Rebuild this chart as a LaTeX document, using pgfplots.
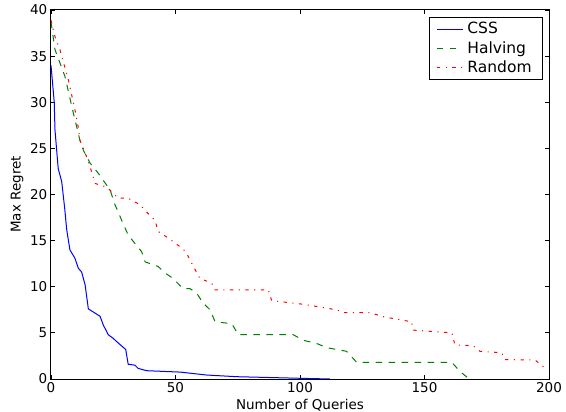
\documentclass[border=0pt]{standalone}
\usepackage{fontspec}
\setmainfont{DejaVu Sans}
\usepackage{pgfplots}
\pgfplotsset{compat=1.18}

\begin{document}
\fontsize{13.5bp}{16bp}\selectfont
\begin{tikzpicture}
\useasboundingbox (-51bp,-33bp) rectangle (515bp,379bp);
\begin{axis}[
  at={(0,0)}, anchor=south west,
  scale only axis, width=498bp, height=369bp,
  xmin=0, xmax=200, ymin=0, ymax=40,
  xtick={0,50,...,200}, ytick={0,5,...,40},
  tick align=inside, major tick length=4bp,
  tick style={black, line width=0.8bp},
  axis line style={line width=1bp},
  /pgf/number format/assume math mode=true,
  ticklabel style={font=\fontsize{13.5bp}{16bp}\selectfont},
  xticklabel style={yshift=1bp},
  yticklabel style={xshift=1bp},
  xlabel={Number of Queries}, ylabel={Max Regret},
  label style={font=\fontsize{13.5bp}{16bp}\selectfont},
  xlabel style={at={(axis description cs:0.5,0)}, anchor=center, yshift=-26bp},
  ylabel style={at={(axis description cs:0,0.5)}, anchor=center, yshift=34bp},
  legend style={at={(axis description cs:1,1)}, anchor=north east, xshift=-6bp, yshift=-7bp,
    draw=black, line width=0.8bp, font=\fontsize{15.5bp}{18bp}\selectfont,
    inner xsep=7bp, inner ysep=3bp, row sep=1.5bp,
    nodes={inner xsep=4bp}},
  legend cell align=left,
  legend image code/.code={\draw[#1, line width=1bp] (0bp,0bp) -- (26bp,0bp);},
]
\addplot[blue, line width=1bp] coordinates {
(0,34) (1.3,30) (1.6,27) (2.9,22.8) (4.3,21.4) (5.5,18.5) (6.3,16.2) (7.6,14)
(9.6,13.1) (11,12) (12.3,11.6) (13.7,10.2) (15,7.6) (19.7,6.8) (21,5.85) (23,4.8)
(25,4.4) (26.4,4.05) (30,3.2) (31,1.6) (33.7,1.5) (35,1.15) (38.4,0.9) (51.8,0.75)
(62.5,0.43) (74.6,0.25) (101,0.07) (112,0)
};
\addplot[color={rgb,1:red,0;green,0.5;blue,0}, line width=1bp, dash pattern=on 6.5bp off 6.5bp] coordinates {
(0,38.7) (1.6,35.7) (5.6,32.8) (9,28.8) (11.6,25.9) (13,24.8) (15.7,23.4) (19,22.3)
(22.4,21) (23.7,20.5) (25.7,18.9) (28.4,17.2) (31,15.6) (33.7,14.7) (36.4,13.8)
(37.8,12.7) (43,12.2) (45.8,11.5) (49,10.9) (53,9.8) (55.8,9.8) (58.5,9.3) (61.2,8.2)
(63.9,7.5) (65.9,6.2) (72.6,6.0) (75.2,4.8) (97.3,4.8) (101.3,4.2) (106.7,3.85)
(110.7,3.4) (118.7,3.0) (122.8,1.8) (161,1.8) (164.3,0.8) (168,0)
};
\addplot[red, line width=1bp, dash pattern=on 3.3bp off 5.5bp on 1.1bp off 5.5bp] coordinates {
(0,38.9) (1.6,37.1) (3.6,35.7) (7,32.4) (9.6,29.2) (11,27.2) (11.6,25.9) (14.3,24.1)
(15.7,23) (17.7,21.2) (22.4,20.8) (24.4,20.3) (27,19.6) (31,19.6) (35.7,18.9)
(38.4,18.1) (41.8,17.2) (43,16) (47,15.3) (50.5,14.6) (53,14.1) (54.5,13.6)
(57.2,12.2) (59.8,10.9) (64.5,10.4) (65.9,9.65) (87.3,9.65) (88.6,8.5) (101.3,8.1)
(114.7,7.5) (117.4,7.2) (128,7.2) (133.5,6.75) (144.8,6.2) (145.5,5.3) (161,5.0)
(162.2,3.7) (169.6,3.6) (172.3,3.0) (181,2.85) (182.3,2.1) (194.4,2.06) (198.4,1.2)
};
\legend{CSS, Halving, Random}
\end{axis}
\end{tikzpicture}
\end{document}
